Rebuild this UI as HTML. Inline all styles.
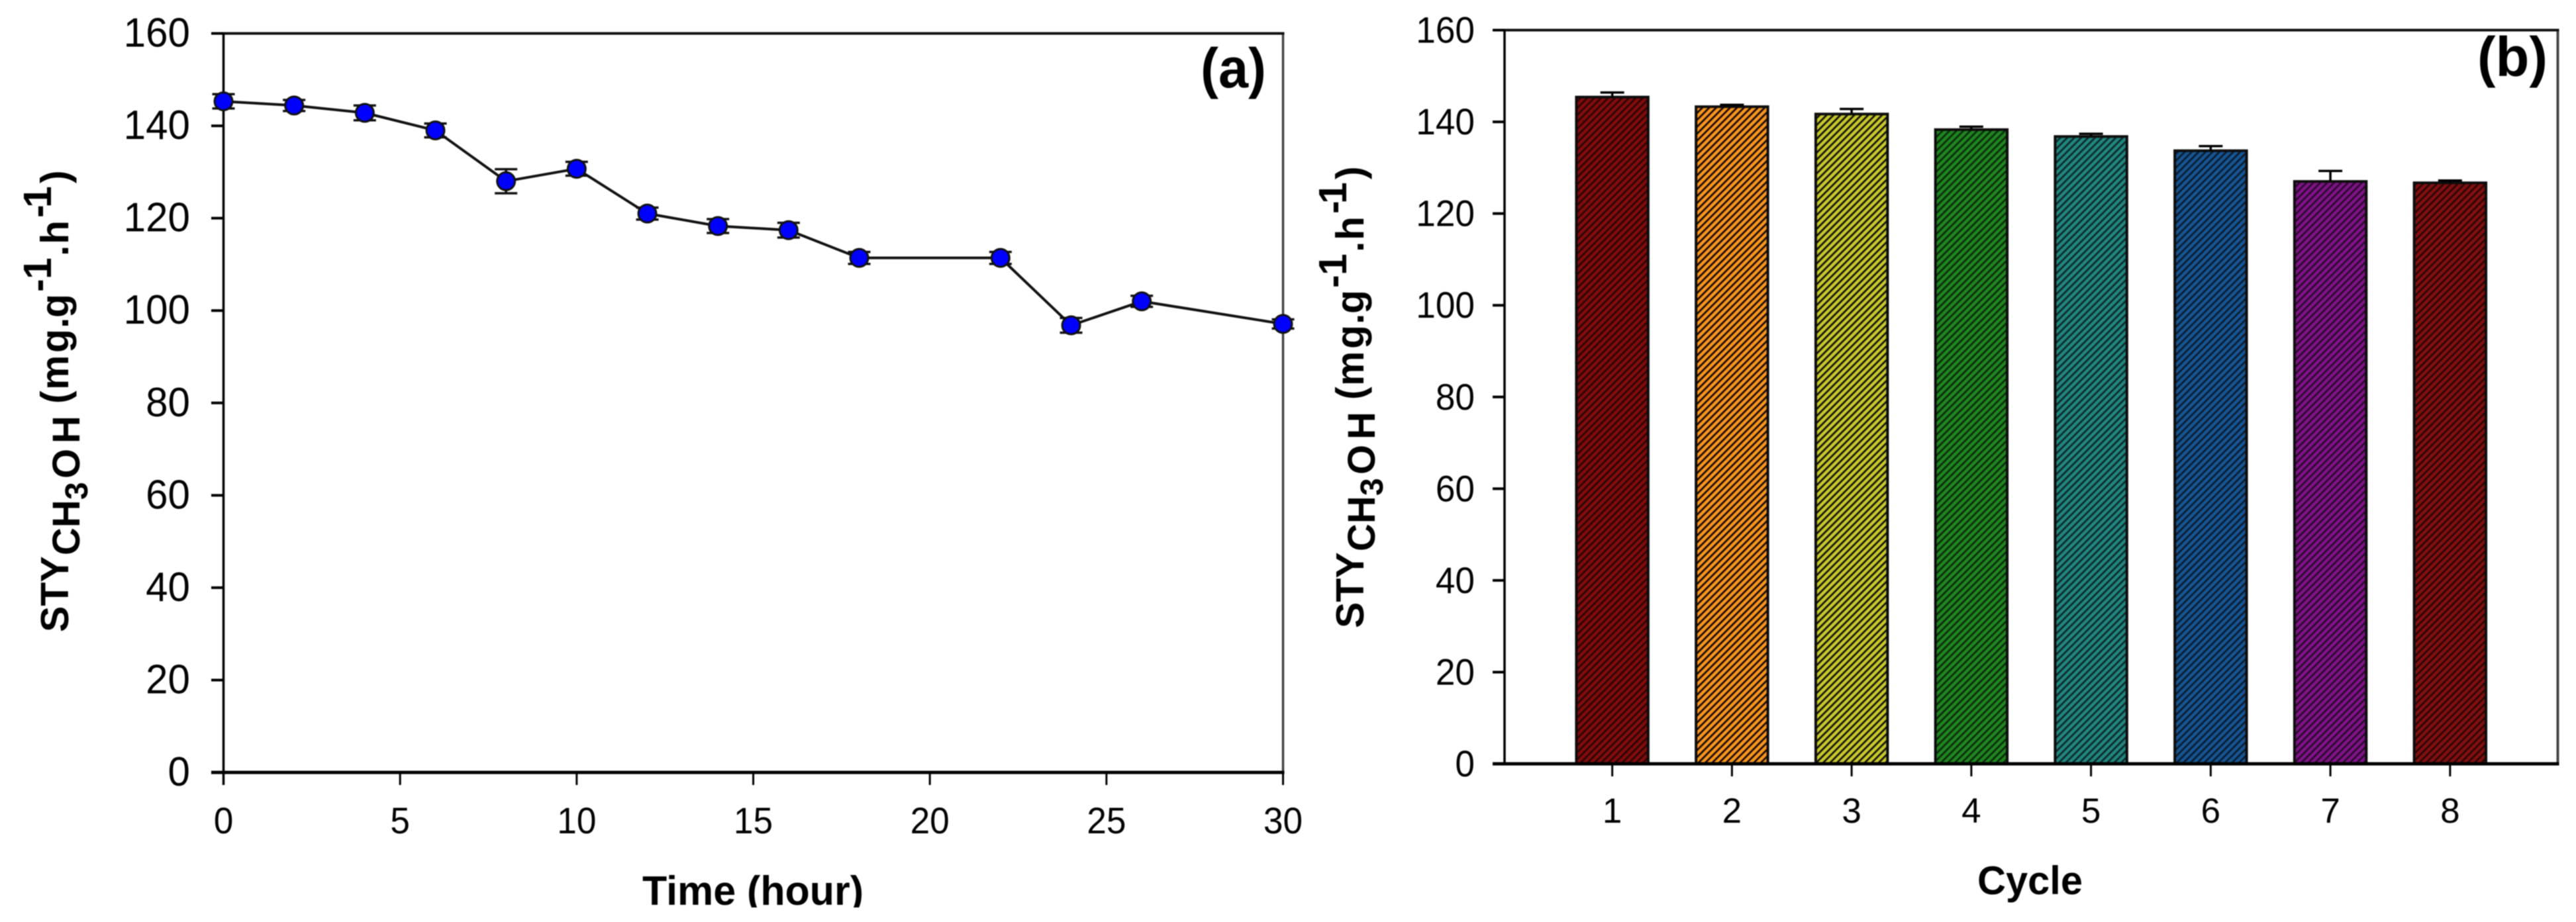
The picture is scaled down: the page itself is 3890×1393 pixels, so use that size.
<!DOCTYPE html>
<html lang="en">
<head>
<meta charset="utf-8">
<title>Space-time yield of methanol versus time and cycle</title>
<style>
  html,body{margin:0;padding:0;background:#fff;}
  svg{display:block;font-family:"Liberation Sans",Arial,sans-serif;filter:blur(0.7px);}
</style>
</head>
<body>
<svg id="figure" xmlns="http://www.w3.org/2000/svg" width="3890" height="1393" viewBox="0 0 3890 1393">
  <defs>
    <pattern id="hatch-1" width="7.4" height="7.4" patternUnits="userSpaceOnUse" patternTransform="rotate(45)"><rect width="7.4" height="7.4" fill="#820b0b"/><rect width="2.8" height="7.4" fill="#2a0505"/></pattern>
    <pattern id="hatch-2" width="7.4" height="7.4" patternUnits="userSpaceOnUse" patternTransform="rotate(45)"><rect width="7.4" height="7.4" fill="#f8961e"/><rect width="2.8" height="7.4" fill="#1a0a04"/></pattern>
    <pattern id="hatch-3" width="7.4" height="7.4" patternUnits="userSpaceOnUse" patternTransform="rotate(45)"><rect width="7.4" height="7.4" fill="#c8c82c"/><rect width="2.8" height="7.4" fill="#12140a"/></pattern>
    <pattern id="hatch-4" width="7.4" height="7.4" patternUnits="userSpaceOnUse" patternTransform="rotate(45)"><rect width="7.4" height="7.4" fill="#1f861f"/><rect width="2.8" height="7.4" fill="#0c2a0c"/></pattern>
    <pattern id="hatch-5" width="7.4" height="7.4" patternUnits="userSpaceOnUse" patternTransform="rotate(45)"><rect width="7.4" height="7.4" fill="#21867f"/><rect width="2.8" height="7.4" fill="#0c2a2a"/></pattern>
    <pattern id="hatch-6" width="7.4" height="7.4" patternUnits="userSpaceOnUse" patternTransform="rotate(45)"><rect width="7.4" height="7.4" fill="#155592"/><rect width="2.8" height="7.4" fill="#0a1c30"/></pattern>
    <pattern id="hatch-7" width="7.4" height="7.4" patternUnits="userSpaceOnUse" patternTransform="rotate(45)"><rect width="7.4" height="7.4" fill="#801288"/><rect width="2.8" height="7.4" fill="#2a0a2c"/></pattern>
    <pattern id="hatch-8" width="7.4" height="7.4" patternUnits="userSpaceOnUse" patternTransform="rotate(45)"><rect width="7.4" height="7.4" fill="#820f0f"/><rect width="2.8" height="7.4" fill="#2a0505"/></pattern>
  </defs>
  <rect width="3890" height="1393" fill="#ffffff"/>

  <g id="panel-a"></g>
  <g id="panel-b"></g>

  <text transform="translate(103,955) rotate(-90)" font-size="59" font-weight="700" fill="#000"><tspan x="0" y="0">STY</tspan><tspan x="116" y="17" font-size="58">CH</tspan><tspan x="200" y="29" font-size="48">3</tspan><tspan x="232" y="17" font-size="58">O</tspan><tspan x="285" y="17" font-size="58">H</tspan><tspan x="345" y="0">(</tspan><tspan x="366" y="0">m</tspan><tspan x="422" y="0">g</tspan><tspan x="459" y="0">.</tspan><tspan x="475" y="0">g</tspan><tspan x="514" y="-26">-</tspan><tspan x="533" y="-26">1</tspan><tspan x="568" y="0">.</tspan><tspan x="586" y="0">h</tspan><tspan x="626" y="-26">-</tspan><tspan x="641" y="-26">1</tspan><tspan x="678" y="0">)</tspan></text>
  <text transform="translate(2059,949) rotate(-90)" font-size="59" font-weight="700" fill="#000"><tspan x="0" y="0">STY</tspan><tspan x="116" y="17" font-size="58">CH</tspan><tspan x="200" y="29" font-size="48">3</tspan><tspan x="232" y="17" font-size="58">O</tspan><tspan x="285" y="17" font-size="58">H</tspan><tspan x="345" y="0">(</tspan><tspan x="366" y="0">m</tspan><tspan x="422" y="0">g</tspan><tspan x="459" y="0">.</tspan><tspan x="475" y="0">g</tspan><tspan x="514" y="-26">-</tspan><tspan x="533" y="-26">1</tspan><tspan x="568" y="0">.</tspan><tspan x="586" y="0">h</tspan><tspan x="626" y="-26">-</tspan><tspan x="641" y="-26">1</tspan><tspan x="678" y="0">)</tspan></text>

  <text x="970" y="1367" font-size="62" font-weight="700" fill="#000" textLength="334" lengthAdjust="spacingAndGlyphs">Time (hour)</text>
  <text x="2986" y="1351" font-size="60" font-weight="700" fill="#000" textLength="159" lengthAdjust="spacingAndGlyphs">Cycle</text>
  <text x="1813" y="132" font-size="84" font-weight="700" fill="#000" textLength="99" lengthAdjust="spacingAndGlyphs">(a)</text>
  <text x="3741" y="115" font-size="84" font-weight="700" fill="#000" textLength="106" lengthAdjust="spacingAndGlyphs">(b)</text>
  <rect x="0" y="1371" width="3890" height="22" fill="#ffffff"/>
</svg>

<script>
// Panel (a) data
const timeHours = [0, 2, 4, 6, 8, 10, 12, 14, 16, 18, 22, 24, 26, 30];
const styOverTime = [145.3, 144.4, 142.8, 139, 128, 130.7, 121, 118.3, 117.4, 111.4, 111.4, 96.8, 102, 97.1];
const styOverTimeError = [1.55, 1.2, 1.6, 1.5, 2.6, 1.5, 1.3, 1.5, 1.6, 1.3, 1.3, 1.6, 1.2, 1.0];
const timeTickLabels = [0, 5, 10, 15, 20, 25, 30];
const styTickLabelsA = [0, 20, 40, 60, 80, 100, 120, 140, 160];

// Panel (b) data
const cycleNumbers = [1, 2, 3, 4, 5, 6, 7, 8];
const styPerCycle = [145.4, 143.3, 141.7, 138.3, 136.8, 133.7, 127, 126.7];
const styPerCycleError = [1.0, 0.4, 1.1, 0.65, 0.6, 1.0, 2.3, 0.5];
const styTickLabelsB = [0, 20, 40, 60, 80, 100, 120, 140, 160];

const SVG_NS = 'http://www.w3.org/2000/svg';
function make(tag, attrs, parent) {
  const el = document.createElementNS(SVG_NS, tag);
  for (const k in attrs) el.setAttribute(k, attrs[k]);
  parent.appendChild(el);
  return el;
}

// Axis functions
const xA = v => 337.5 + (v - 0) * (1937.5 - 337.5) / 30;
const yA = v => 1167 - v * (1167 - 50.5) / 160;
const xB = v => 2272 + (v - 0.1) * (3862.5 - 2272) / 8.8;
const yB = v => 1154 - v * (1154 - 45.5) / 160;

const panelA = document.getElementById('panel-a');
const panelB = document.getElementById('panel-b');

/* ---------- Panel A ---------- */
const frameA = make('path', {d: `M${xA(30)} ${yA(160)}V${yA(0)}`, stroke: '#444', 'stroke-width': 3.5, fill: 'none'}, panelA);



const topA = make('path', {d: `M319 ${yA(160)}H${xA(30) + 2}`, stroke: '#111', 'stroke-width': 4, fill: 'none'}, panelA);



const leftA = make('path', {d: `M${xA(0)} ${yA(160)}V${yA(0) + 19}`, stroke: '#000', 'stroke-width': 3.5, fill: 'none'}, panelA);



const bottomA = make('path', {d: `M319 ${yA(0)}H${xA(30) + 2}`, stroke: '#000', 'stroke-width': 5, fill: 'none'}, panelA);



styTickLabelsA.forEach(v => {
  const tick = make('line', {x1: 319, x2: xA(0), y1: yA(v), y2: yA(v), stroke: '#000', 'stroke-width': 4}, panelA);
  
  
  const label = make('text', {transform: `translate(287,${yA(v) + 20}) scale(0.97,1)`, 'text-anchor': 'end', 'font-size': 62, fill: '#000'}, panelA);
  label.textContent = v;
  
  
});

timeTickLabels.forEach(v => {
  const tick = make('line', {x1: xA(v), x2: xA(v), y1: yA(0), y2: yA(0) + 19, stroke: '#000', 'stroke-width': 3}, panelA);
  
  
  const label = make('text', {transform: `translate(${xA(v)},1259) scale(0.95,1)`, 'text-anchor': 'middle', 'font-size': 56, fill: '#000'}, panelA);
  label.textContent = v;
  
  
});

const linePoints = timeHours.map((t, i) => `${xA(t)},${yA(styOverTime[i])}`).join(' ');
const seriesLine = make('polyline', {points: linePoints, fill: 'none', stroke: '#111', 'stroke-width': 4}, panelA);



timeHours.forEach((t, i) => {
  const cx = xA(t);
  const top = yA(styOverTime[i] + styOverTimeError[i]);
  const bottom = yA(styOverTime[i] - styOverTimeError[i]);
  const err = make('path', {d: `M${cx - 17} ${top}H${cx + 17}M${cx} ${top}V${bottom}M${cx - 17} ${bottom}H${cx + 17}`, stroke: '#111', 'stroke-width': 3.5, fill: 'none'}, panelA);
  
  
  const point = make('circle', {cx: cx, cy: yA(styOverTime[i]), r: 13.5, fill: '#0000ff', stroke: '#111', 'stroke-width': 3}, panelA);
  
  
});

/* ---------- Panel B ---------- */
const barWidth = (xB(1.6) - xB(1));

cycleNumbers.forEach((c, i) => {
  const top = yB(styPerCycle[i]);
  const bar = make('rect', {x: xB(c) - barWidth / 2, y: top, width: barWidth, height: yB(0) - top, fill: `url(#hatch-${c})`, stroke: '#0d0d0d', 'stroke-width': 4}, panelB);
  
  
  const errTop = yB(styPerCycle[i] + styPerCycleError[i]);
  const err = make('path', {d: `M${xB(c) - 18} ${errTop}H${xB(c) + 18}M${xB(c)} ${errTop}V${top}`, stroke: '#000', 'stroke-width': 3.5, fill: 'none'}, panelB);
  
  
});

const frameB = make('path', {d: `M${xB(8.9)} ${yB(160)}V${yB(0)}`, stroke: '#444', 'stroke-width': 4, fill: 'none'}, panelB);



const topB = make('path', {d: `M2254 ${yB(160)}H${xB(8.9) + 2}`, stroke: '#111', 'stroke-width': 4, fill: 'none'}, panelB);



const leftB = make('path', {d: `M${xB(0.1)} ${yB(160)}V${yB(0)}`, stroke: '#000', 'stroke-width': 3.5, fill: 'none'}, panelB);



const bottomB = make('path', {d: `M2254 ${yB(0)}H${xB(8.9) + 2}`, stroke: '#000', 'stroke-width': 5, fill: 'none'}, panelB);



styTickLabelsB.forEach(v => {
  const tick = make('line', {x1: 2254, x2: xB(0.1), y1: yB(v), y2: yB(v), stroke: '#000', 'stroke-width': 4}, panelB);
  
  
  const label = make('text', {transform: `translate(2227,${yB(v) + 19}) scale(0.95,1)`, 'text-anchor': 'end', 'font-size': 56, fill: '#000'}, panelB);
  label.textContent = v;
  
  
});

cycleNumbers.forEach(c => {
  const tick = make('line', {x1: xB(c), x2: xB(c), y1: yB(0), y2: yB(0) + 19, stroke: '#000', 'stroke-width': 3}, panelB);
  
  
  const label = make('text', {x: xB(c), y: 1243, 'text-anchor': 'middle', 'font-size': 53, fill: '#000'}, panelB);
  label.textContent = c;
  
  
});
</script>
</body>
</html>
